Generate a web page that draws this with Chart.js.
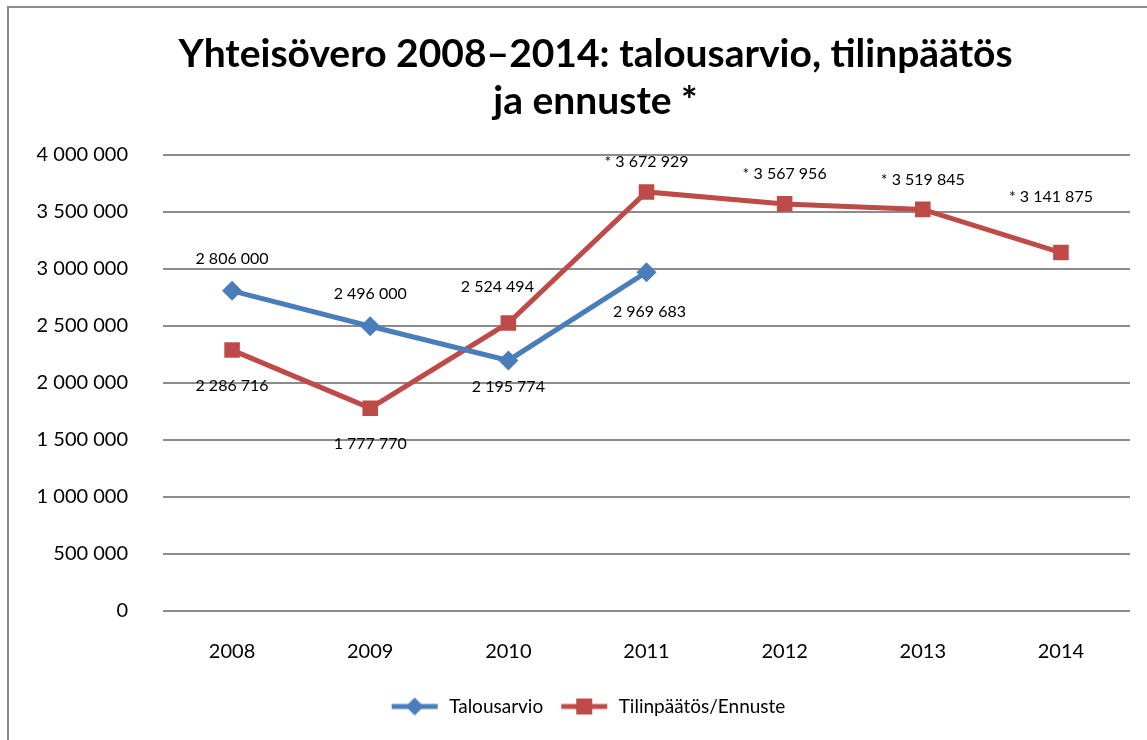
<!DOCTYPE html>
<html>
<head>
<meta charset="utf-8">
<script src="https://cdn.jsdelivr.net/npm/chart.js@4"></script>
<style>
  body { margin: 0; background: #fff; overflow: hidden; }
  #frame { position: absolute; left: 7px; top: 6px; width: 1180px; height: 760px; border: 2px solid #8c8c8c; }
  canvas { display: block; }
</style>
</head>
<body>
<div id="frame"><canvas id="chart" width="1180" height="740"></canvas></div>
<script>
// Chart data
const years = ['2008', '2009', '2010', '2011', '2012', '2013', '2014'];
const talousarvio = [2806000, 2496000, 2195774, 2969683, null, null, null];
const tilinpaatos = [2286716, 1777770, 2524494, 3672929, 3567956, 3519845, 3141875];
const ennusteFrom = 3; // from 2011 on the values are forecasts (*)
const yTicks = [0, 500000, 1000000, 1500000, 2000000, 2500000, 3000000, 3500000, 4000000];

const blue = '#4a7ebb';
const red = '#be4b48';
const font = 'Lato, "Liberation Sans", sans-serif';

// number with spaces: 2806000 -> "2 806 000"
function fmt(v) {
    return String(v).replace(/\B(?=(\d{3})+(?!\d))/g, ' ');
}

// label placement: 1 = above point, -1 = below
const talousPos = [1, 1, -1, -1];
const tilinPos = [-1, -1, 1, 1, 1, 1, 1];

// legend marker with line through it
function legendIcon(color, style) {
    const c = document.createElement('canvas');
    c.width = 50; c.height = 20;
    const g = c.getContext('2d');
    g.strokeStyle = color; g.fillStyle = color; g.lineWidth = 5;
    g.beginPath(); g.moveTo(2, 10); g.lineTo(48, 10); g.stroke();
    if (style === 'diamond') {
        g.beginPath(); g.moveTo(25, 1); g.lineTo(34, 10); g.lineTo(25, 19); g.lineTo(16, 10); g.closePath(); g.fill();
    } else {
        g.fillRect(17, 2, 16, 16);
    }
    return c;
}

const dataLabels = {
    id: 'dataLabels',
    afterDatasetsDraw(chart) {
        const ctx = chart.ctx;
        ctx.save();
        ctx.font = '16px ' + font;
        ctx.fillStyle = '#000';
        ctx.textAlign = 'center';
        ctx.textBaseline = 'middle';
        const m0 = chart.getDatasetMeta(0);
        m0.data.forEach((pt, i) => {
            if (talousarvio[i] == null) return;
            let dy = talousPos[i] > 0 ? -32 : 26;
            let dx = 0;
            if (i === 3) { dy = 40; dx = 3; }
            ctx.fillText(fmt(talousarvio[i]), pt.x + dx, pt.y + dy);
        });
        const m1 = chart.getDatasetMeta(1);
        m1.data.forEach((pt, i) => {
            let dy = tilinPos[i] > 0 ? -30 : 36;
            let dx = 0;
            if (i === 2) { dx = -11; dy = -36; }
            if (i === 6) { dx = -10; dy = -56; }
            const txt = (i >= ennusteFrom ? '* ' : '') + fmt(tilinpaatos[i]);
            ctx.fillText(txt, pt.x + dx, pt.y + dy);
        });
        ctx.restore();
    }
};

// title and legend sit a bit right of the plot centre in the original
const shiftBoxes = {
    id: 'shiftBoxes',
    afterLayout(chart) {
        if (chart.titleBlock) { chart.titleBlock.left += 26; chart.titleBlock.right += 26; }
        if (chart.legend) { chart.legend.left += 18; chart.legend.right += 18; }
    }
};

new Chart(document.getElementById('chart'), {
    type: 'line',
    data: {
        labels: years,
        datasets: [
            {
                label: 'Talousarvio',
                data: talousarvio,
                borderColor: blue,
                backgroundColor: blue,
                borderWidth: 5,
                pointStyle: 'rectRot',
                pointRadius: 10,
                pointBorderWidth: 0,
                spanGaps: false
            },
            {
                label: 'Tilinpäätös/Ennuste',
                data: tilinpaatos,
                borderColor: red,
                backgroundColor: red,
                borderWidth: 5,
                pointStyle: 'rect',
                pointRadius: 11,
                pointBorderWidth: 0
            }
        ]
    },
    options: {
        responsive: false,
        animation: false,
        layout: { padding: { left: 0, right: 59, top: 23, bottom: 22 } },
        plugins: {
            title: {
                display: true,
                text: ['Yhteisövero 2008–2014: talousarvio, tilinpäätös', 'ja ennuste *'],
                font: { family: font, size: 39, weight: 'bold' },
                color: '#000',
                lineHeight: 1.17,
                padding: { top: 0, bottom: 30 }
            },
            legend: {
                position: 'bottom',
                labels: {
                    usePointStyle: true,
                    pointStyleWidth: 50,
                    boxHeight: 20,
                    padding: 16,
                    color: '#000',
                    font: { family: font, size: 19 },
                    generateLabels() {
                        return [
                            { text: 'Talousarvio', pointStyle: legendIcon(blue, 'diamond'), fillStyle: blue, strokeStyle: blue, lineWidth: 0, datasetIndex: 0 },
                            { text: 'Tilinpäätös/Ennuste', pointStyle: legendIcon(red, 'square'), fillStyle: red, strokeStyle: red, lineWidth: 0, datasetIndex: 1 }
                        ];
                    }
                }
            },
            tooltip: { enabled: false }
        },
        scales: {
            x: {
                offset: true,
                afterFit(scale) { scale.height = 70; },
                grid: { display: false },
                border: { display: false },
                ticks: { color: '#000', font: { family: font, size: 20 }, padding: 21 }
            },
            y: {
                min: 0,
                max: 4000000,
                afterBuildTicks(scale) {
                    scale.ticks = yTicks.map(v => ({ value: v }));
                },
                afterFit(scale) { scale.width = 154; },
                grid: { color: '#8c8c8c', lineWidth: 2, drawTicks: false },
                border: { display: false },
                ticks: {
                    color: '#000',
                    font: { family: font, size: 20 },
                    padding: 35,
                    callback: v => fmt(v)
                }
            }
        }
    },
    plugins: [dataLabels, shiftBoxes]
});
</script>
</body>
</html>
